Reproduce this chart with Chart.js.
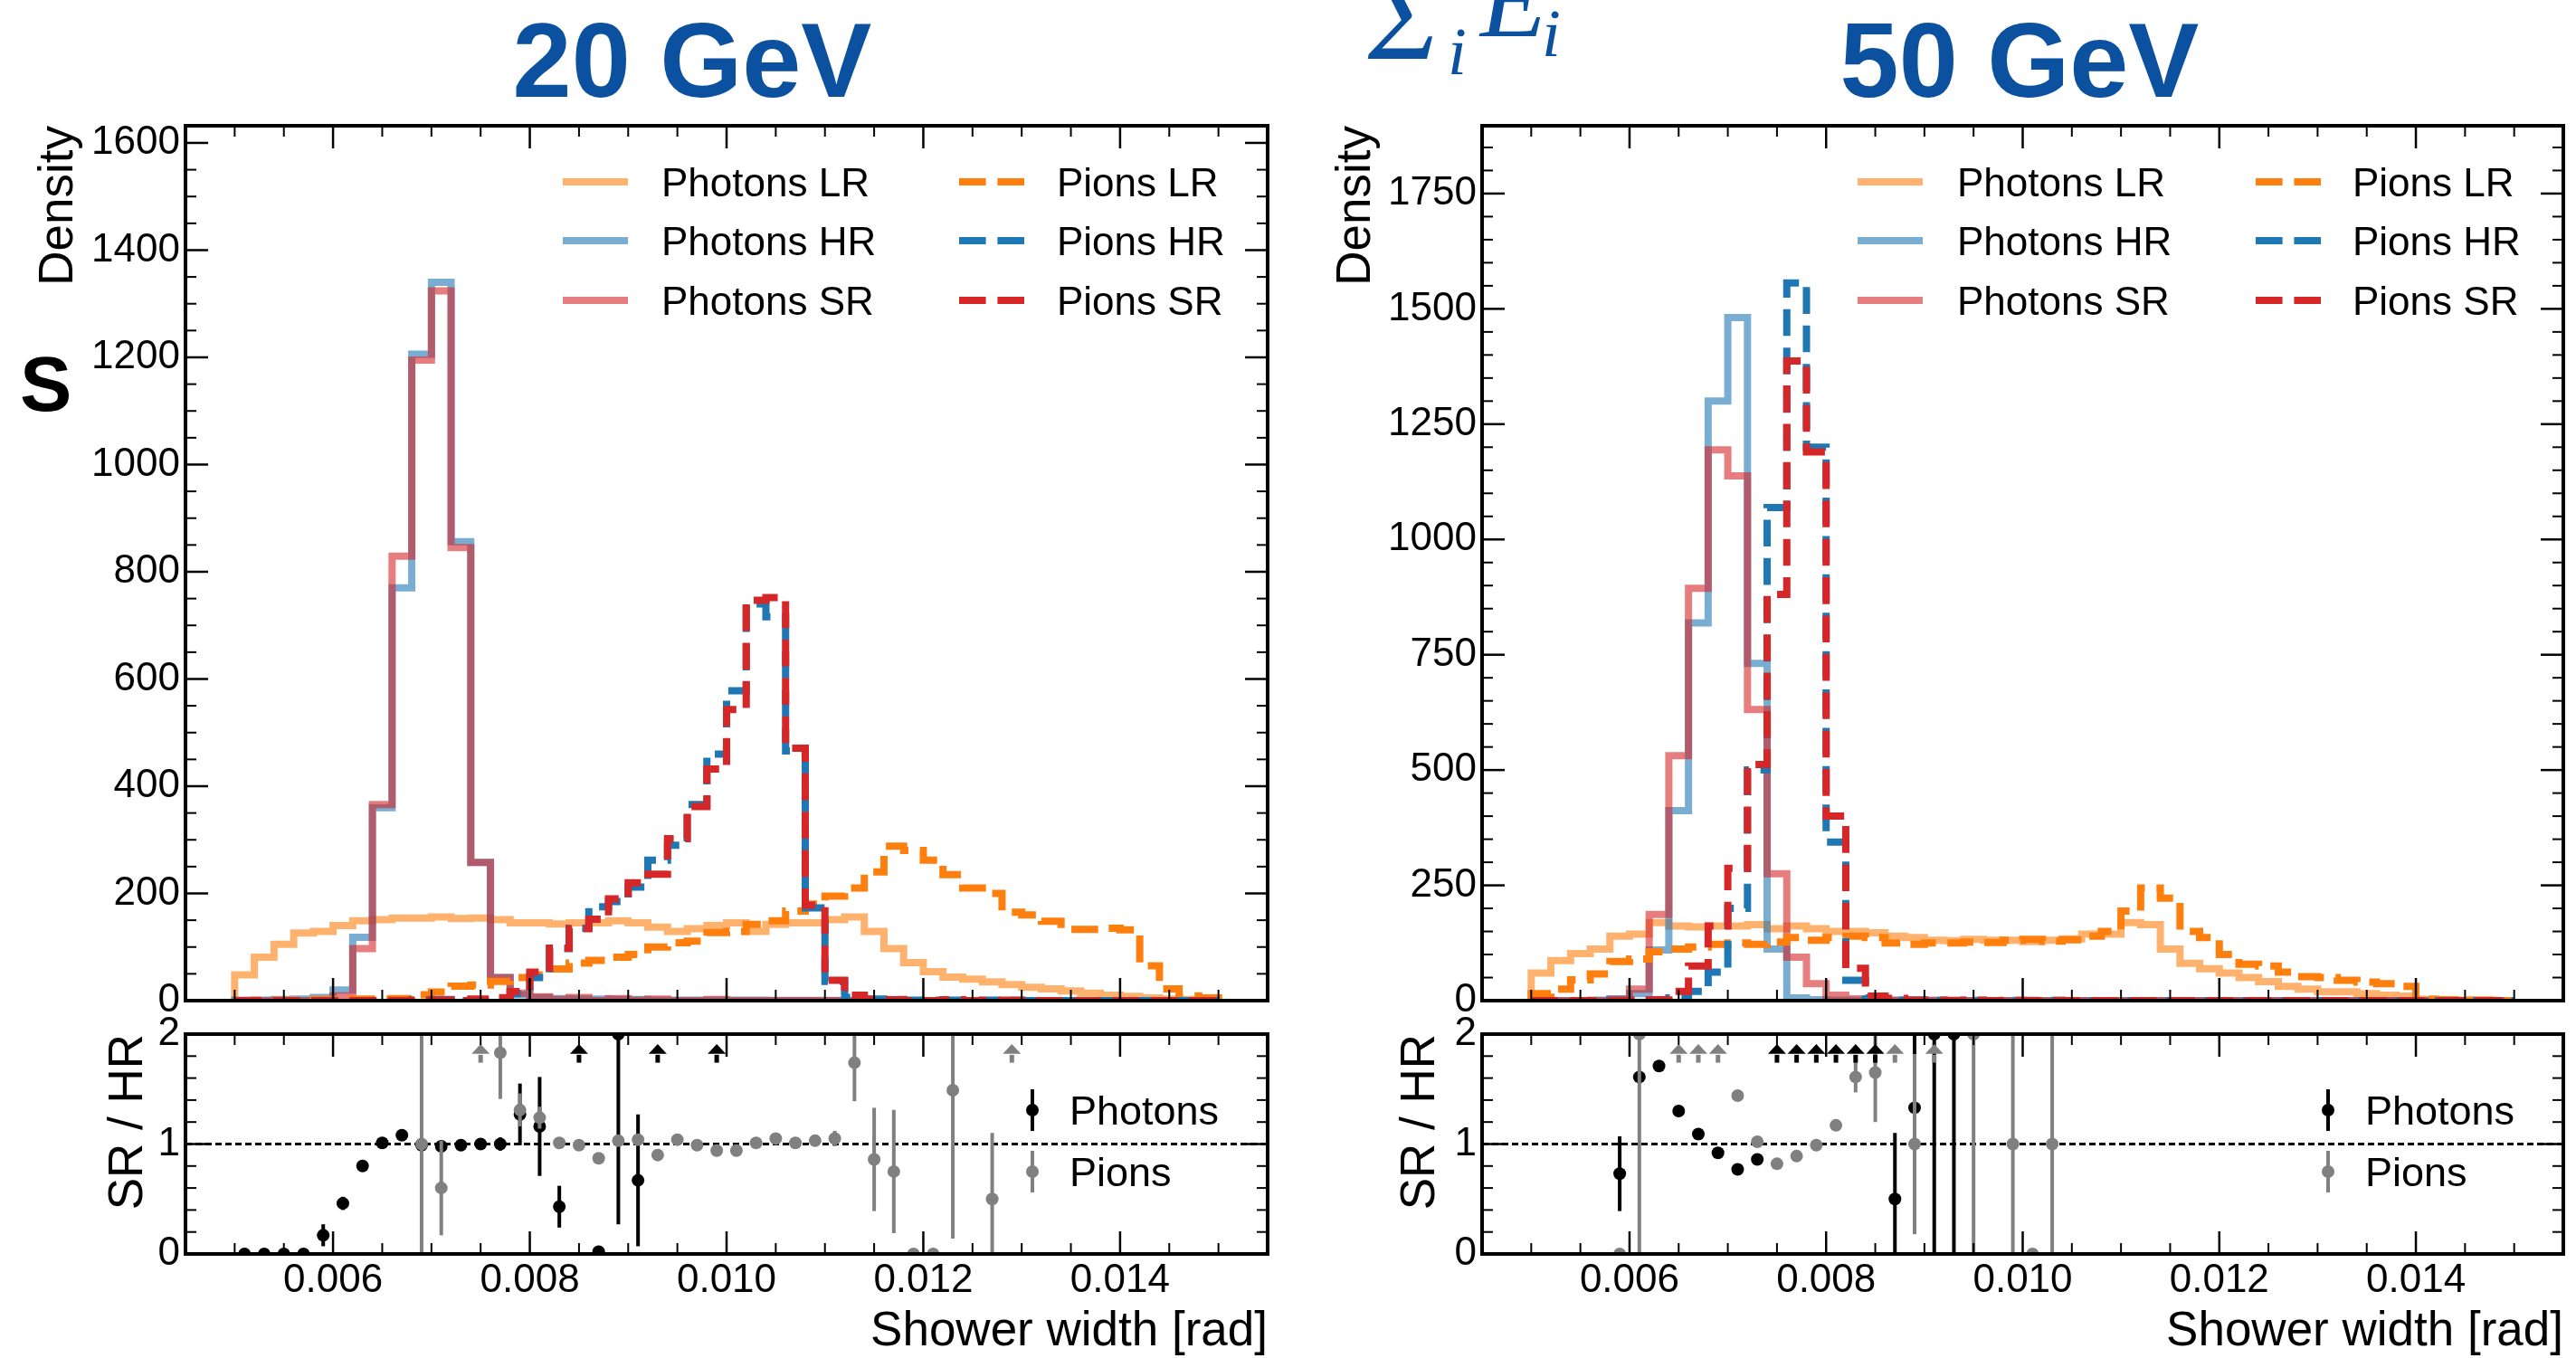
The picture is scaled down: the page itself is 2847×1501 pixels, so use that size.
<!DOCTYPE html>
<html lang="en">
<head>
<meta charset="UTF-8">
<title>Shower width - SR / HR</title>
<script src="https://cdn.jsdelivr.net/npm/chart.js"></script>
<style>
    body {
        margin: 0;
        background: #fff;
        overflow: hidden;
    }

    #page {
        position: relative;
        width: 2847px;
        height: 1501px;
        overflow: hidden;
        background: #fff;
    }

    #page canvas {
        position: absolute;
        left: 0;
        top: 0;
    }

    .lbl {
        position: absolute;
        white-space: nowrap;
        line-height: 1;
    }

    .title {
        font-family: "Liberation Sans", Arial, sans-serif;
        font-weight: bold;
        font-size: 117px;
        color: #0b51a0;
        transform: translateX(-50%);
    }

    .math {
        font-family: "Liberation Serif", serif;
        font-style: italic;
        color: #0b51a0;
    }
</style>
</head>
<body>
<div id="page">
    <canvas id="main20" width="2847" height="1501"></canvas>
    <canvas id="ratio20" width="2847" height="1501"></canvas>
    <canvas id="main50" width="2847" height="1501"></canvas>
    <canvas id="ratio50" width="2847" height="1501"></canvas>

    <div class="lbl title" style="left:765px; top:8px;">20 GeV</div>
    <div class="lbl title" style="left:2232px; top:8px;">50 GeV</div>

    <div class="lbl" style="left:22px; top:381px; font-family:'Liberation Sans'; font-weight:bold; font-size:86px;">S</div>

    <div class="lbl math" style="left:1512px; top:-48px; font-size:135px;">Σ</div>
    <div class="lbl math" style="left:1600px; top:19px; font-size:75px;">i</div>
    <div class="lbl math" style="left:1636px; top:-60px; font-size:120px;">E</div>
    <div class="lbl math" style="left:1704px; top:-1px; font-size:75px;">i</div>
</div>

<script>
    // ---- data ----
    const binEdges = [0.0050, 0.0052, 0.0054, 0.0056, 0.0058, 0.0060, 0.0062, 0.0064, 0.0066, 0.0068,
        0.0070, 0.0072, 0.0074, 0.0076, 0.0078, 0.0080, 0.0082, 0.0084, 0.0086, 0.0088,
        0.0090, 0.0092, 0.0094, 0.0096, 0.0098, 0.0100, 0.0102, 0.0104, 0.0106, 0.0108,
        0.0110, 0.0112, 0.0114, 0.0116, 0.0118, 0.0120, 0.0122, 0.0124, 0.0126, 0.0128,
        0.0130, 0.0132, 0.0134, 0.0136, 0.0138, 0.0140, 0.0142, 0.0144, 0.0146, 0.0148, 0.0150];

    const seriesLabels = ['Photons LR', 'Photons HR', 'Photons SR', 'Pions LR', 'Pions HR', 'Pions SR'];

    // 20 GeV
    const photonsLR20 = [48, 81, 105, 126, 129, 140, 149, 151, 154, 154,
        156, 153, 154, 151, 145, 145, 143, 145, 145, 149,
        145, 137, 129, 134, 140, 145, 129, 142, 145, 145,
        151, 156, 129, 97, 71, 54, 44, 40, 35, 30,
        25, 22, 18, 14, 10, 8, 5, 3, 2, 1];
    const photonsHR20 = [1, 1, 2, 3, 6, 20, 118, 360, 770, 1206,
        1340, 856, 258, 43, 11, 6, 4, 3, 3, 2,
        2, 1, 1, 1, 1, 1, 1, 0.5, 0.5, 0.5,
        0.5, 0.5, 0, 0, 0, 0, 0, 0, 0, 0,
        0, 0, 0, 0, 0, 0, 0, 0, 0, 0];
    const photonsSR20 = [0, 0, 0, 0, 1, 9, 97, 366, 829, 1195,
        1324, 845, 258, 43, 14, 7, 2, 6, 0, 4,
        1, 3, 0, 0, 2, 0, 0, 0, 0, 0,
        0, 0, 0, 0, 0, 0, 0, 0, 0, 0,
        0, 0, 0, 0, 0, 0, 0, 0, 0, 0];
    const pionsLR20 = [0, 1, 1, 1, 2, 2, 3, 3, 4, 11,
        16, 27, 29, 36, 43, 48, 59, 70, 75, 81,
        86, 100, 108, 111, 127, 129, 142, 149, 167, 180,
        195, 210, 240, 288, 280, 262, 235, 210, 200, 165,
        160, 148, 133, 133, 135, 132, 65, 22, 9, 5];
    const pionsHR20 = [0, 0, 0, 0, 0, 0, 0, 0, 0, 1,
        2, 0, 1, 3, 13, 43, 97, 135, 175, 185,
        212, 262, 290, 366, 460, 578, 740, 716, 466, 173,
        36, 6, 3, 2, 1, 1, 1, 0, 1, 0.3,
        0, 0, 0, 0, 0, 0, 0, 0, 0, 0];
    const pionsSR20 = [0, 0, 0, 0, 0, 0, 0, 0, 0, 1,
        1.2, 0, 3, 5.5, 17, 53, 98, 134, 152, 190,
        220, 236, 302, 362, 432, 543, 747, 752, 471, 178,
        38, 10, 2.6, 1.5, 0, 0, 1.5, 0, 0.5, 1,
        0, 0, 0, 0, 0, 0, 0, 0, 0, 0];

    // 50 GeV
    const photonsLR50 = [60, 87, 102, 112, 140, 144, 169, 162, 160, 162,
        162, 165, 156, 162, 156, 150, 150, 147, 140, 137,
        131, 130, 133, 131, 131, 128, 131, 134, 144, 144,
        169, 165, 112, 81, 69, 60, 50, 41, 31, 25,
        19, 19, 15, 12, 10, 3, 2, 1, 1, 0];
    const photonsHR50 = [0, 0, 0, 1, 4, 15, 110, 412, 819, 1300,
        1481, 731, 112, 6, 2, 1, 0.5, 0.3, 1, 0.6,
        0.3, 0.3, 0, 0, 0, 0, 0, 0, 0, 0,
        0, 0, 0, 0, 0, 0, 0, 0, 0, 0,
        0, 0, 0, 0, 0, 0, 0, 0, 0, 0];
    const photonsSR50 = [0, 0, 0, 0, 3, 25, 187, 531, 894, 1194,
        1138, 631, 275, 94, 37, 12, 4, 2, 0.5, 0.8,
        0.6, 0.6, 0, 0, 0, 0, 0, 0, 0, 0,
        0, 0, 0, 0, 0, 0, 0, 0, 0, 0,
        0, 0, 0, 0, 0, 0, 0, 0, 0, 0];
    const pionsLR50 = [15, 25, 45, 58, 85, 90, 106, 112, 116, 122,
        125, 122, 127, 137, 131, 137, 140, 137, 125, 122,
        125, 125, 127, 126, 131, 133, 129, 132, 140, 150,
        194, 244, 222, 150, 137, 100, 79, 75, 62, 52,
        50, 44, 40, 37, 31, 3, 2, 1, 1, 0];
    const pionsHR50 = [0, 0, 0, 0, 0.5, 0.5, 0, 6, 20, 62,
        200, 500, 1069, 1556, 1200, 344, 44, 6, 1, 1,
        0.3, 0, 0.5, 0, 0.5, 0.5, 0.5, 0, 0, 0,
        0, 0, 0, 0, 0, 0, 0, 0, 0, 0,
        0, 0, 0, 0, 0, 0, 0, 0, 0, 0];
    const pionsSR50 = [0, 0, 0, 0, 0, 1, 2, 20, 75, 162,
        287, 512, 881, 1387, 1190, 400, 70, 10, 5, 1,
        1, 0, 1, 0, 0.5, 0, 0.5, 0, 0, 0,
        0, 0, 0, 0, 0, 0, 0, 0, 0, 0,
        0, 0, 0, 0, 0, 0, 0, 0, 0, 0];

    // SR / HR ratio per bin (null = no point) and its error
    const N = null;
    const ratioPhotons20 = [0, 0, 0, 0, 0.17, 0.46, 0.80, 1.01, 1.08, 0.99,
        0.98, 0.99, 1.00, 1.00, 1.27, 1.16, 0.43, N, 0.02, 2.00,
        0.67, N, N, N, N, N, N, N, N, N,
        N, N, N, N, N, N, N, N, N, N,
        N, N, N, N, N, N, N, N, N, N];
    const errPhotons20 = [0, 0, 0, 0, 0.10, 0.06, 0.03, 0.01, 0.01, 0.01,
        0.01, 0.01, 0.02, 0.06, 0.28, 0.45, 0.19, N, 0, 1.73,
        0.60, N, N, N, N, N, N, N, N, N,
        N, N, N, N, N, N, N, N, N, N,
        N, N, N, N, N, N, N, N, N, N];
    const ratioPions20 = [N, N, N, N, N, N, N, N, N, 1.00,
        0.60, N, N, 1.83, 1.31, 1.24, 1.01, 0.99, 0.87, 1.03,
        1.04, 0.90, 1.04, 0.99, 0.94, 0.94, 1.01, 1.05, 1.01, 1.03,
        1.05, 1.74, 0.86, 0.75, 0, 0, 1.49, N, 0.50, N,
        N, N, N, N, N, N, N, N, N, N];
    const errPions20 = [N, N, N, N, N, N, N, N, N, 1.30,
        0.43, N, N, 0.42, 0.15, 0.10, 0.03, 0.02, 0.02, 0.02,
        0.02, 0.02, 0.02, 0.02, 0.02, 0.02, 0.02, 0.02, 0.02, 0.02,
        0.07, 0.35, 0.47, 0.56, 0, 0, 1.35, N, 0.60, N,
        N, N, N, N, N, N, N, N, N, N];
    const arrowsPhotons20 = [0.0085, 0.0093, 0.0099];
    const arrowsPions20 = [0.0075, 0.0129];

    const ratioPhotons50 = [N, N, N, N, 0.73, 1.61, 1.71, 1.30, 1.09, 0.92,
        0.77, 0.86, N, N, N, N, N, N, 0.50, 1.33,
        2.00, 2.00, N, N, N, N, N, N, N, N,
        N, N, N, N, N, N, N, N, N, N,
        N, N, N, N, N, N, N, N, N, N];
    const errPhotons50 = [N, N, N, N, 0.34, 0.06, 0.05, 0.02, 0.01, 0.01,
        0.01, 0.02, N, N, N, N, N, N, 0.60, 0.70,
        2.20, 2.20, N, N, N, N, N, N, N, N,
        N, N, N, N, N, N, N, N, N, N,
        N, N, N, N, N, N, N, N, N, N];
    const ratioPions50 = [N, N, N, N, 0, 2.00, N, N, N, N,
        1.44, 1.02, 0.82, 0.89, 0.99, 1.17, 1.61, 1.65, N, 1.00,
        N, N, 2.00, N, 1.00, 0, 1.00, N, N, N,
        N, N, N, N, N, N, N, N, N, N,
        N, N, N, N, N, N, N, N, N, N];
    const errPions50 = [N, N, N, N, 0, 2.20, N, N, N, N,
        0.03, 0.02, 0.02, 0.01, 0.01, 0.03, 0.14, 0.45, N, 0.82,
        N, N, 2.20, N, 1.30, 0, 1.30, N, N, N,
        N, N, N, N, N, N, N, N, N, N,
        N, N, N, N, N, N, N, N, N, N];
    const arrowsPhotons50 = [0.0075, 0.0077, 0.0079, 0.0081, 0.0083, 0.0085];
    const arrowsPions50 = [0.0065, 0.0067, 0.0069, 0.0087, 0.0091];

    // tick labels
    const xTicks = [0.006, 0.008, 0.010, 0.012, 0.014];
    const yTicks20 = [0, 200, 400, 600, 800, 1000, 1200, 1400, 1600];
    const yTicks50 = [0, 250, 500, 750, 1000, 1250, 1500, 1750];
    const ratioTicks = [0, 1, 2];

    // ---- styling ----
    const FONT = '"Liberation Sans", Arial, Helvetica, sans-serif';
    Chart.defaults.font.family = FONT;
    Chart.defaults.color = '#000';

    const PAGE_W = 2847, PAGE_H = 1501;
    const X_MIN = 0.0045, X_MAX = 0.0155;

    const lineColors = ['rgba(255,127,14,0.6)', 'rgba(31,119,180,0.6)', 'rgba(214,39,40,0.6)',
        '#ff7f0e', '#1f77b4', '#d62728'];
    const DASH = [29.6, 12.8];

    function stepData(values) {
        const pts = [{x: binEdges[0], y: 0}];
        values.forEach((v, i) => pts.push({x: binEdges[i + 1], y: v}));
        pts.push({x: binEdges[binEdges.length - 1], y: 0});
        return pts;
    }

    function ratioPoints(vals, errs) {
        const pts = [];
        vals.forEach((v, i) => {
            if (v !== null) pts.push({x: (binEdges[i] + binEdges[i + 1]) / 2, y: v, e: errs[i]});
        });
        return pts;
    }

    function seg(ctx, x0, y0, x1, y1) {
        ctx.beginPath();
        ctx.moveTo(x0, y0);
        ctx.lineTo(x1, y1);
        ctx.stroke();
    }

    const fixedTicks = list => s => { s.ticks = list.map(v => ({value: v})); };

    // frame, inward ticks on all sides, titles, legends, error bars, arrows
    function panelPlugin(cfg) {
        return {
            id: 'panel',
            beforeDatasetsDraw(chart) {
                if (cfg.refLine === undefined) return;
                const {ctx, chartArea: a, scales: {y}} = chart;
                const py = y.getPixelForValue(cfg.refLine);
                ctx.save();
                ctx.strokeStyle = '#000';
                ctx.lineWidth = 3;
                ctx.setLineDash([7, 4]);
                seg(ctx, a.left, py, a.right, py);
                ctx.restore();
            },
            beforeDatasetDraw(chart, args) {
                const ds = chart.data.datasets[args.index];
                if (!ds.errorBars) return;
                const {ctx, chartArea: a, scales: {x, y}} = chart;
                ctx.save();
                ctx.beginPath();
                ctx.rect(a.left, a.top, a.right - a.left, a.bottom - a.top);
                ctx.clip();
                ctx.strokeStyle = ds.backgroundColor;
                ctx.lineWidth = 4;
                ds.data.forEach(p => {
                    if (!p.e) return;
                    const px = x.getPixelForValue(p.x);
                    seg(ctx, px, y.getPixelForValue(p.y - p.e), px, y.getPixelForValue(p.y + p.e));
                });
                ctx.restore();
            },
            afterDatasetsDraw(chart) {
                if (!cfg.arrows) return;
                const {ctx, scales: {x, y}} = chart;
                ctx.save();
                cfg.arrows.forEach(group => {
                    ctx.strokeStyle = group.color;
                    ctx.fillStyle = group.color;
                    group.xs.forEach(v => {
                        const px = x.getPixelForValue(v);
                        const yb = y.getPixelForValue(1.74), ym = y.getPixelForValue(1.82), yt = y.getPixelForValue(1.91);
                        ctx.lineWidth = 5;
                        seg(ctx, px, yb, px, ym + 1);
                        ctx.beginPath();
                        ctx.moveTo(px - 10, ym);
                        ctx.lineTo(px + 10, ym);
                        ctx.lineTo(px, yt);
                        ctx.closePath();
                        ctx.fill();
                    });
                });
                ctx.restore();
            },
            afterDraw(chart) {
                const {ctx, chartArea: a, scales: {x, y}} = chart;
                ctx.save();
                ctx.strokeStyle = '#000';
                ctx.lineCap = 'butt';

                const xMaj = x.ticks.map(t => t.value);
                const yMaj = y.ticks.map(t => t.value);
                const near = (v, arr, eps) => arr.some(m => Math.abs(m - v) < eps);

                // minor ticks
                ctx.lineWidth = 2;
                for (let k = Math.ceil(x.min / cfg.xMinor - 1e-6); k * cfg.xMinor <= x.max + 1e-9; k++) {
                    const v = k * cfg.xMinor;
                    if (near(v, xMaj, cfg.xMinor / 10)) continue;
                    const p = x.getPixelForValue(v);
                    if (p <= a.left + 2 || p >= a.right - 2) continue;
                    seg(ctx, p, a.bottom, p, a.bottom - 12);
                    seg(ctx, p, a.top, p, a.top + 12);
                }
                for (let k = Math.ceil(y.min / cfg.yMinor - 1e-6); k * cfg.yMinor <= y.max + 1e-9; k++) {
                    const v = k * cfg.yMinor;
                    if (near(v, yMaj, cfg.yMinor / 10)) continue;
                    const p = y.getPixelForValue(v);
                    if (p <= a.top + 2 || p >= a.bottom - 2) continue;
                    seg(ctx, a.left, p, a.left + 12, p);
                    seg(ctx, a.right, p, a.right - 12, p);
                }
                // major ticks
                ctx.lineWidth = 2.5;
                xMaj.forEach(v => {
                    const p = x.getPixelForValue(v);
                    seg(ctx, p, a.bottom, p, a.bottom - 25);
                    seg(ctx, p, a.top, p, a.top + 25);
                });
                yMaj.forEach(v => {
                    const p = y.getPixelForValue(v);
                    seg(ctx, a.left, p, a.left + 25, p);
                    seg(ctx, a.right, p, a.right - 25, p);
                });
                // frame
                ctx.lineWidth = 4;
                ctx.strokeRect(a.left, a.top, a.right - a.left, a.bottom - a.top);

                ctx.fillStyle = '#000';
                // axis titles
                if (cfg.yTitle) {
                    ctx.save();
                    ctx.translate(cfg.yTitle.x, a.top);
                    ctx.rotate(-Math.PI / 2);
                    ctx.font = '53px ' + FONT;
                    ctx.textAlign = 'right';
                    ctx.textBaseline = 'alphabetic';
                    ctx.fillText(cfg.yTitle.text, 0, 0);
                    ctx.restore();
                }
                if (cfg.xTitle) {
                    ctx.font = '53px ' + FONT;
                    ctx.textAlign = 'right';
                    ctx.textBaseline = 'alphabetic';
                    ctx.fillText(cfg.xTitle.text, a.right, cfg.xTitle.y);
                }

                // line legend
                (cfg.legend || []).forEach(item => {
                    const ds = chart.data.datasets[item.ds];
                    ctx.strokeStyle = ds.borderColor;
                    ctx.lineWidth = ds.borderWidth;
                    ctx.setLineDash(ds.borderDash || []);
                    seg(ctx, item.x0, item.y, item.x1, item.y);
                    ctx.setLineDash([]);
                    ctx.fillStyle = '#000';
                    ctx.font = '44px ' + FONT;
                    ctx.textAlign = 'left';
                    ctx.textBaseline = 'alphabetic';
                    ctx.fillText(ds.label, item.tx, item.y + 16);
                });

                // marker legend
                (cfg.markerLegend || []).forEach(item => {
                    const ds = chart.data.datasets[item.ds];
                    ctx.strokeStyle = ds.backgroundColor;
                    ctx.fillStyle = ds.backgroundColor;
                    ctx.lineWidth = 4;
                    seg(ctx, item.x, item.y - 23, item.x, item.y + 23);
                    ctx.beginPath();
                    ctx.arc(item.x, item.y, 7, 0, Math.PI * 2);
                    ctx.fill();
                    ctx.fillStyle = '#000';
                    ctx.font = '45px ' + FONT;
                    ctx.textAlign = 'left';
                    ctx.textBaseline = 'alphabetic';
                    ctx.fillText(ds.label, item.tx, item.y + 16);
                });
                ctx.restore();
            }
        };
    }

    function padding(left, top, right, bottom, yW, xH) {
        return {left: left - yW, top: top, right: PAGE_W - right, bottom: PAGE_H - bottom - xH};
    }

    function histChart(id, box, yMax, yTicks, series, cfg) {
        return new Chart(document.getElementById(id), {
            type: 'line',
            data: {
                datasets: series.map((vals, i) => ({
                    label: seriesLabels[i],
                    data: stepData(vals),
                    borderColor: lineColors[i],
                    borderWidth: 8,
                    borderDash: i >= 3 ? DASH : [],
                    borderJoinStyle: 'miter',
                    borderCapStyle: 'butt',
                    stepped: 'after',
                    pointRadius: 0,
                    fill: false,
                    order: series.length - i
                }))
            },
            options: {
                responsive: false,
                animation: false,
                events: [],
                layout: {autoPadding: false, padding: padding(box[0], box[1], box[2], box[3], 150, 0)},
                plugins: {legend: {display: false}, tooltip: {enabled: false}},
                scales: {
                    x: {
                        type: 'linear', min: X_MIN, max: X_MAX,
                        afterBuildTicks: fixedTicks(xTicks),
                        ticks: {display: false},
                        grid: {display: false, drawTicks: false},
                        border: {display: false},
                        afterFit: s => { s.height = 0; }
                    },
                    y: {
                        type: 'linear', min: 0, max: yMax,
                        afterBuildTicks: fixedTicks(yTicks),
                        ticks: {padding: 6, font: {size: 44}, autoSkip: false, callback: v => String(v)},
                        grid: {display: false, drawTicks: false},
                        border: {display: false},
                        afterFit: s => { s.width = 150; }
                    }
                }
            },
            plugins: [panelPlugin(Object.assign({xMinor: 0.0005, yMinor: 50}, cfg))]
        });
    }

    function ratioChart(id, box, rPh, ePh, rPi, ePi, cfg) {
        return new Chart(document.getElementById(id), {
            type: 'scatter',
            data: {
                datasets: [
                    {label: 'Photons', data: ratioPoints(rPh, ePh), backgroundColor: '#000', errorBars: true,
                        pointRadius: 7, pointBorderWidth: 0, clip: 0, order: 2},
                    {label: 'Pions', data: ratioPoints(rPi, ePi), backgroundColor: '#808080', errorBars: true,
                        pointRadius: 7, pointBorderWidth: 0, clip: 0, order: 1}
                ]
            },
            options: {
                responsive: false,
                animation: false,
                events: [],
                layout: {autoPadding: false, padding: padding(box[0], box[1], box[2], box[3], 150, 60)},
                plugins: {legend: {display: false}, tooltip: {enabled: false}},
                scales: {
                    x: {
                        type: 'linear', min: X_MIN, max: X_MAX,
                        afterBuildTicks: fixedTicks(xTicks),
                        ticks: {padding: 3, font: {size: 44}, maxRotation: 0, autoSkip: false, callback: v => v.toFixed(3)},
                        grid: {display: false, drawTicks: false},
                        border: {display: false},
                        afterFit: s => { s.height = 60; }
                    },
                    y: {
                        type: 'linear', min: 0, max: 2,
                        afterBuildTicks: fixedTicks(ratioTicks),
                        ticks: {padding: 6, font: {size: 44}, autoSkip: false, callback: v => String(v)},
                        grid: {display: false, drawTicks: false},
                        border: {display: false},
                        afterFit: s => { s.width = 150; }
                    }
                }
            },
            plugins: [panelPlugin(Object.assign({xMinor: 0.0005, yMinor: 0.2, refLine: 1}, cfg))]
        });
    }

    // ---- 20 GeV ----
    histChart('main20', [205, 139, 1401, 1106], 1632, yTicks20,
        [photonsLR20, photonsHR20, photonsSR20, pionsLR20, pionsHR20, pionsSR20], {
            yTitle: {text: 'Density', x: 80},
            legend: [
                {ds: 0, x0: 622, x1: 694, tx: 731, y: 201},
                {ds: 1, x0: 622, x1: 694, tx: 731, y: 266},
                {ds: 2, x0: 622, x1: 694, tx: 731, y: 332},
                {ds: 3, x0: 1060, x1: 1132, tx: 1168, y: 201},
                {ds: 4, x0: 1060, x1: 1132, tx: 1168, y: 266},
                {ds: 5, x0: 1060, x1: 1132, tx: 1168, y: 332}
            ]
        });

    ratioChart('ratio20', [205, 1143, 1401, 1386], ratioPhotons20, errPhotons20, ratioPions20, errPions20, {
        yTitle: {text: 'SR / HR', x: 157},
        xTitle: {text: 'Shower width [rad]', y: 1487},
        arrows: [{xs: arrowsPhotons20, color: '#000'}, {xs: arrowsPions20, color: '#808080'}],
        markerLegend: [
            {ds: 0, x: 1141, tx: 1182, y: 1227},
            {ds: 1, x: 1141, tx: 1182, y: 1295}
        ]
    });

    // ---- 50 GeV ----
    histChart('main50', [1638, 139, 2833, 1106], 1897, yTicks50,
        [photonsLR50, photonsHR50, photonsSR50, pionsLR50, pionsHR50, pionsSR50], {
            yTitle: {text: 'Density', x: 1514},
            legend: [
                {ds: 0, x0: 2053, x1: 2125, tx: 2163, y: 201},
                {ds: 1, x0: 2053, x1: 2125, tx: 2163, y: 266},
                {ds: 2, x0: 2053, x1: 2125, tx: 2163, y: 332},
                {ds: 3, x0: 2493, x1: 2565, tx: 2600, y: 201},
                {ds: 4, x0: 2493, x1: 2565, tx: 2600, y: 266},
                {ds: 5, x0: 2493, x1: 2565, tx: 2600, y: 332}
            ]
        });

    ratioChart('ratio50', [1638, 1143, 2833, 1386], ratioPhotons50, errPhotons50, ratioPions50, errPions50, {
        yTitle: {text: 'SR / HR', x: 1585},
        xTitle: {text: 'Shower width [rad]', y: 1487},
        arrows: [{xs: arrowsPhotons50, color: '#000'}, {xs: arrowsPions50, color: '#808080'}],
        markerLegend: [
            {ds: 0, x: 2573, tx: 2614, y: 1227},
            {ds: 1, x: 2573, tx: 2614, y: 1295}
        ]
    });
</script>
</body>
</html>
